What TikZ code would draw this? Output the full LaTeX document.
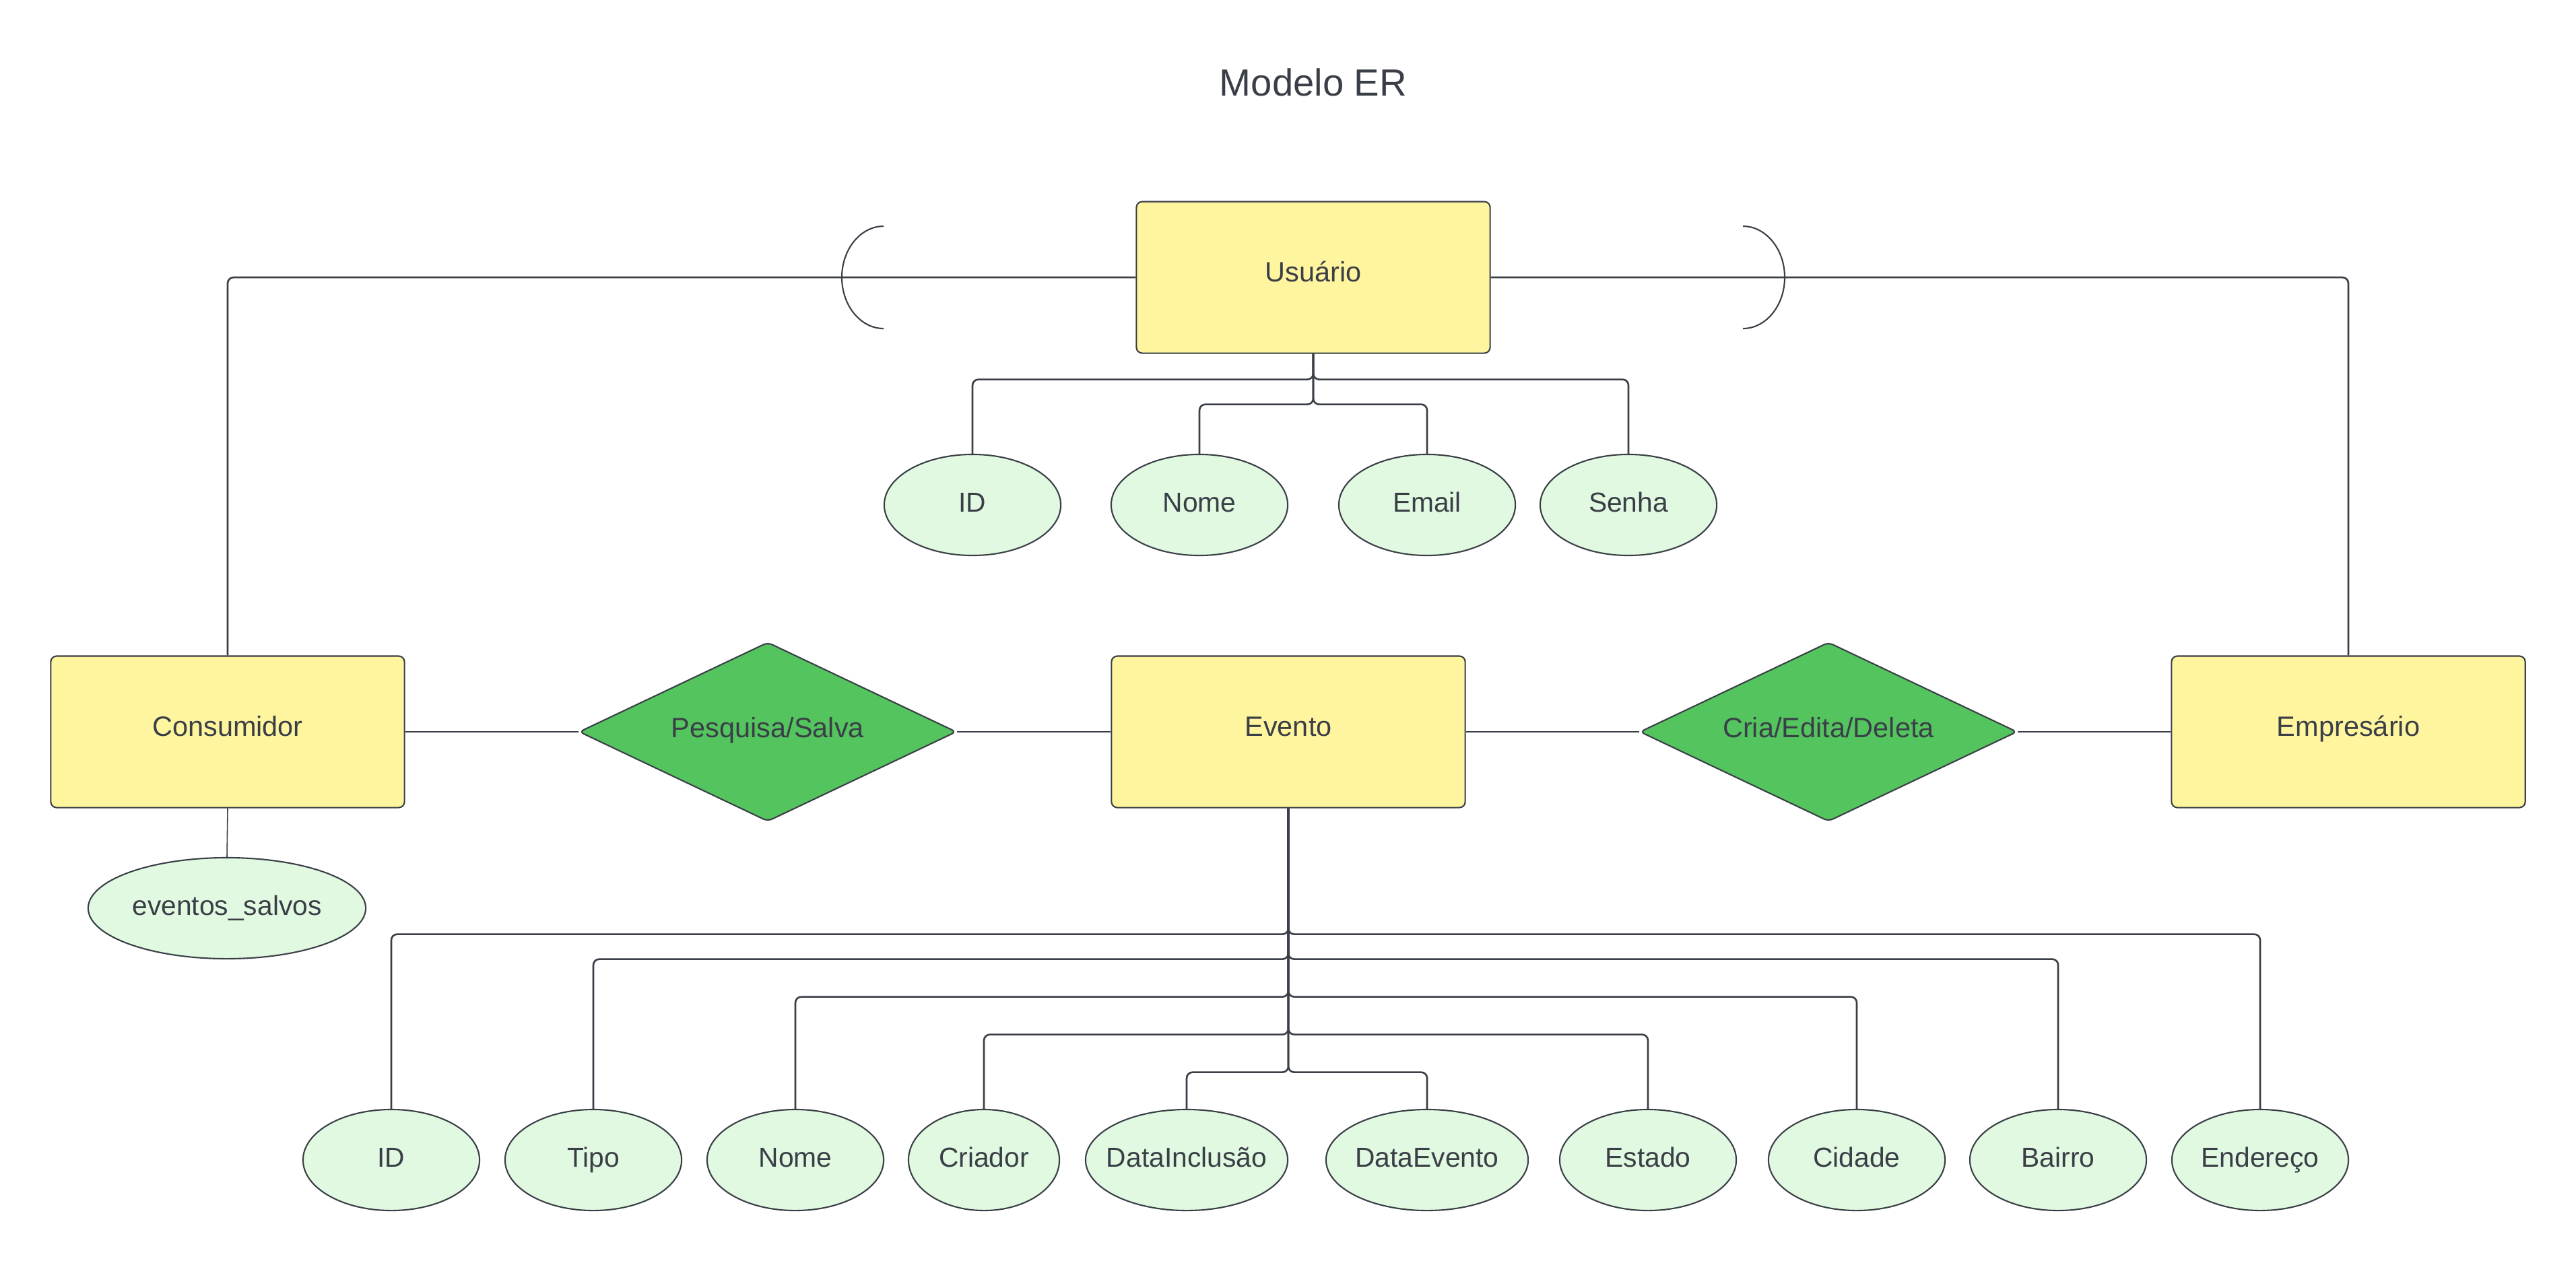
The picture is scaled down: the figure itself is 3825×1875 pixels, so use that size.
\documentclass[tikz,border=0pt]{standalone}
\usepackage{fontspec}
\setmainfont{Liberation Sans}
\usetikzlibrary{shapes.geometric}
\definecolor{ink}{HTML}{3A3F47}
\definecolor{entfill}{HTML}{FFF59F}
\definecolor{relfill}{HTML}{54C45E}
\definecolor{attfill}{HTML}{E1F9E0}
\tikzset{
  entity/.style={draw=ink, line width=0.6pt, fill=entfill, rounded corners=2.5pt,
    minimum width=5.25cm, minimum height=2.25cm, inner sep=0pt},
  relation/.style={draw=ink, line width=0.6pt, fill=relfill, shape=diamond, rounded corners=2pt,
    minimum width=5.6cm, minimum height=2.66cm, inner sep=0pt},
  attrib/.style={draw=ink, line width=0.6pt, fill=attfill, shape=ellipse,
    minimum width=2.62cm, minimum height=1.5cm, inner sep=0pt},
  lab/.style={text=ink, inner sep=0pt, text height=8.6pt, text depth=0pt, rounded corners=0pt},
  entlab/.style={lab, font=\fontsize{11.8}{14}\selectfont, yshift=0.09cm},
  rellab/.style={lab, font=\fontsize{11.8}{14}\selectfont, yshift=0.07cm},
  attlab/.style={lab, font=\fontsize{11.6}{14}\selectfont, yshift=0.045cm},
  conn/.style={draw=ink, line width=0.75pt, rounded corners=2.5pt},
  thinconn/.style={draw=ink, line width=0.45pt},
  bracket/.style={draw=ink, line width=0.6pt}
}
\begin{document}
\begin{tikzpicture}[x=0.01cm, y=-0.01cm]
\useasboundingbox (0,0) rectangle (3825,1875);

\node[text=ink, font=\fontsize{16}{19}\selectfont, inner sep=0pt, text height=11.6pt, text depth=0pt] (title) at (1950,122) {Modelo ER};

% entities
\node[entity, label={[entlab]center:Usuário}] (usu) at (1950,412) {};
\node[entity, label={[entlab]center:Consumidor}] (cons) at (338,1087) {};
\node[entity, label={[entlab]center:Evento}] (ev) at (1913,1087) {};
\node[entity, label={[entlab]center:Empresário}] (emp) at (3487,1087) {};

% relationships
\node[relation, label={[rellab]center:Pesquisa/Salva}] (pesq) at (1140,1087) {};
\node[relation, label={[rellab]center:Cria/Edita/Deleta}] (cria) at (2715,1087) {};

% Usuario attributes
\node[attrib, label={[attlab]center:ID}] (uid) at (1444,750) {};
\node[attrib, label={[attlab]center:Nome}] (unome) at (1781,750) {};
\node[attrib, label={[attlab]center:Email}] (uemail) at (2119,750) {};
\node[attrib, label={[attlab]center:Senha}] (usenha) at (2418,750) {};

% Consumidor attribute
\node[attrib, minimum width=4.12cm, label={[attlab]center:eventos\_salvos}] (salvos) at (337,1349) {};

% Evento attributes
\node[attrib, label={[attlab]center:ID}] (eid) at (581,1723) {};
\node[attrib, label={[attlab]center:Tipo}] (etipo) at (881,1723) {};
\node[attrib, label={[attlab]center:Nome}] (enome) at (1181,1723) {};
\node[attrib, minimum width=2.24cm, label={[attlab]center:Criador}] (ecriador) at (1461,1723) {};
\node[attrib, minimum width=3.0cm, label={[attlab]center:DataInclusão}] (edatainc) at (1762,1723) {};
\node[attrib, minimum width=3.0cm, label={[attlab]center:DataEvento}] (edataev) at (2119,1723) {};
\node[attrib, label={[attlab]center:Estado}] (eestado) at (2447,1723) {};
\node[attrib, label={[attlab]center:Cidade}] (ecidade) at (2757,1723) {};
\node[attrib, label={[attlab]center:Bairro}] (ebairro) at (3056,1723) {};
\node[attrib, label={[attlab]center:Endereço}] (eend) at (3356,1723) {};

% specialization lines
\draw[conn] (usu.west) -| (cons.north);
\draw[conn] (usu.east) -| (emp.north);

% subset arcs
\coordinate (la) at (1312,336);
\coordinate (lb) at (1312,488);
\coordinate (ra) at (2588,336);
\coordinate (rb) at (2588,488);
\draw[bracket] (la) .. controls (1278,336) and (1250,370) .. (1250,412)
               .. controls (1250,454) and (1278,488) .. (lb);
\draw[bracket] (ra) .. controls (2622,336) and (2650,370) .. (2650,412)
               .. controls (2650,454) and (2622,488) .. (rb);

% relationship lines
\draw[conn] (cons.east) -- (pesq.west);
\draw[conn] (pesq.east) -- (ev.west);
\draw[conn] (ev.east) -- (cria.west);
\draw[conn] (cria.east) -- (emp.west);

% Usuario attribute lines
\draw[conn] (usu.south) -- ++(0,38) -| (uid.north);
\draw[conn] (usu.south) -- ++(0,38) -| (usenha.north);
\draw[conn] (usu.south) -- ++(0,75) -| (unome.north);
\draw[conn] (usu.south) -- ++(0,75) -| (uemail.north);

% Consumidor attribute line
\draw[thinconn] (cons.south) -- (salvos.north);

% Evento attribute lines
\draw[conn] (ev.south) -- ++(0,187) -| (eid.north);
\draw[conn] (ev.south) -- ++(0,187) -| (eend.north);
\draw[conn] (ev.south) -- ++(0,224) -| (etipo.north);
\draw[conn] (ev.south) -- ++(0,224) -| (ebairro.north);
\draw[conn] (ev.south) -- ++(0,280) -| (enome.north);
\draw[conn] (ev.south) -- ++(0,280) -| (ecidade.north);
\draw[conn] (ev.south) -- ++(0,336) -| (ecriador.north);
\draw[conn] (ev.south) -- ++(0,336) -| (eestado.north);
\draw[conn] (ev.south) -- ++(0,392) -| (edatainc.north);
\draw[conn] (ev.south) -- ++(0,392) -| (edataev.north);
\end{tikzpicture}
\end{document}
